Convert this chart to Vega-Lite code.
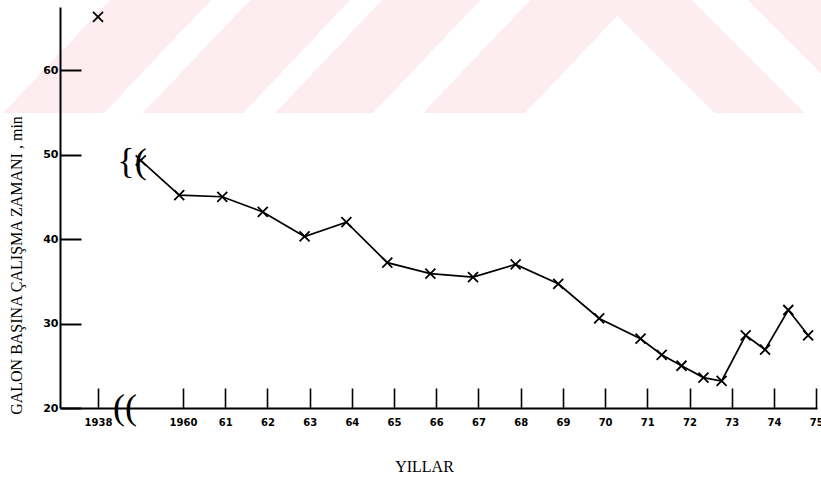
{
  "$schema": "https://vega.github.io/schema/vega-lite/v6.json",
  "autosize": {"type": "none"},
  "width": 757,
  "height": 401,
  "padding": {"left": 60, "top": 7, "right": 4, "bottom": 69},
  "background": "white",
  "config": {
    "view": {"stroke": null},
    "font": "DejaVu Sans",
    "axis": {
      "grid": false,
      "domainColor": "black",
      "domainWidth": 2,
      "tickColor": "black",
      "labelColor": "black",
      "labelFont": "DejaVu Sans",
      "labelFontWeight": "bold",
      "labelFlush": false,
      "labelOverlap": false,
      "titleColor": "black",
      "titleFont": "Liberation Serif",
      "titleFontWeight": "normal",
      "titleFontSize": 16
    }
  },
  "datasets": {
    "banner": [
      {"part": "left", "x0": 1935.68, "x1": 1970.31, "y0": 54.92, "y1": 68.29},
      {"part": "right", "x0": 1970.31, "x1": 1975.12, "y0": 54.92, "y1": 68.29}
    ],
    "series": [
      {"year": 1938, "minutes": 66.3},
      {"year": 1958.96, "minutes": 49.3},
      {"year": 1959.91, "minutes": 45.2},
      {"year": 1960.93, "minutes": 45.0},
      {"year": 1961.89, "minutes": 43.2},
      {"year": 1962.88, "minutes": 40.3},
      {"year": 1963.87, "minutes": 42.0},
      {"year": 1964.84, "minutes": 37.2},
      {"year": 1965.86, "minutes": 35.9},
      {"year": 1966.87, "minutes": 35.5},
      {"year": 1967.88, "minutes": 37.0},
      {"year": 1968.89, "minutes": 34.7},
      {"year": 1969.86, "minutes": 30.6},
      {"year": 1970.84, "minutes": 28.2},
      {"year": 1971.34, "minutes": 26.3},
      {"year": 1971.81, "minutes": 25.0},
      {"year": 1972.33, "minutes": 23.6},
      {"year": 1972.76, "minutes": 23.2},
      {"year": 1973.33, "minutes": 28.6},
      {"year": 1973.79, "minutes": 26.9},
      {"year": 1974.34, "minutes": 31.6},
      {"year": 1974.81, "minutes": 28.6}
    ],
    "breaks": [
      {"year": 1951.25, "minutes": 20.0, "sym": "(("},
      {"year": 1954.68, "minutes": 49.1, "sym": "{("}
    ]
  },
  "layer": [
    {
      "data": {"name": "banner"},
      "transform": [{"filter": "datum.part == 'left'"}],
      "mark": {
        "type": "rect",
        "strokeWidth": 0,
        "fill": {
          "gradient": "linear",
          "x1": 0, "y1": 0, "x2": 1.139, "y2": 0.1972,
          "stops": [
            {"offset": 0, "color": "#ffffff"},
            {"offset": 0.1517, "color": "#ffffff"},
            {"offset": 0.1517, "color": "#fdedf0"},
            {"offset": 0.291, "color": "#fdedf0"},
            {"offset": 0.291, "color": "#ffffff"},
            {"offset": 0.3448, "color": "#ffffff"},
            {"offset": 0.3448, "color": "#fdedf0"},
            {"offset": 0.4828, "color": "#fdedf0"},
            {"offset": 0.4828, "color": "#ffffff"},
            {"offset": 0.5269, "color": "#ffffff"},
            {"offset": 0.5269, "color": "#fdedf0"},
            {"offset": 0.6621, "color": "#fdedf0"},
            {"offset": 0.6621, "color": "#ffffff"},
            {"offset": 0.731, "color": "#ffffff"},
            {"offset": 0.731, "color": "#fdedf0"},
            {"offset": 0.8717, "color": "#fdedf0"},
            {"offset": 0.8717, "color": "#ffffff"},
            {"offset": 1, "color": "#ffffff"}
          ]
        }
      },
      "encoding": {
        "x": {"field": "x0", "type": "quantitative"},
        "x2": {"field": "x1"},
        "y": {"field": "y0", "type": "quantitative"},
        "y2": {"field": "y1"}
      }
    },
    {
      "data": {"name": "banner"},
      "transform": [{"filter": "datum.part == 'right'"}],
      "mark": {
        "type": "rect",
        "strokeWidth": 0,
        "fill": {
          "gradient": "linear",
          "x1": 0, "y1": 1, "x2": 1.1884, "y2": 0.3385,
          "stops": [
            {"offset": 0, "color": "#ffffff"},
            {"offset": 0.3038, "color": "#ffffff"},
            {"offset": 0.3038, "color": "#fdedf0"},
            {"offset": 0.5886, "color": "#fdedf0"},
            {"offset": 0.5886, "color": "#ffffff"},
            {"offset": 0.7658, "color": "#ffffff"},
            {"offset": 0.7658, "color": "#fdedf0"},
            {"offset": 1, "color": "#fdedf0"}
          ]
        }
      },
      "encoding": {
        "x": {"field": "x0", "type": "quantitative"},
        "x2": {"field": "x1"},
        "y": {"field": "y0", "type": "quantitative"},
        "y2": {"field": "y1"}
      }
    },
    {
      "data": {"name": "series"},
      "transform": [{"filter": "datum.year > 1950"}],
      "mark": {"type": "line", "color": "black", "strokeWidth": 1.7},
      "encoding": {
        "x": {
          "field": "year",
          "type": "quantitative",
          "scale": {
            "domain": [1937.1, 1938, 1959, 1975.02],
            "range": [0, 38, 80.8, 757],
            "nice": false,
            "zero": false
          },
          "axis": {
            "zindex": 2,
            "values": [1938, 1960, 1961, 1962, 1963, 1964, 1965, 1966, 1967, 1968, 1969, 1970, 1971, 1972, 1973, 1974, 1975],
            "labelExpr": "datum.value == 1938 || datum.value == 1960 ? format(datum.value, 'd') : format(datum.value - 1900, 'd')",
            "tickSize": -20,
            "tickWidth": 1.6,
            "labelFontSize": 10,
            "labelPadding": 29,
            "title": "YILLAR",
            "titleX": 364,
            "titleY": 58,
            "titleAlign": "center",
            "titleBaseline": "middle"
          }
        },
        "y": {
          "field": "minutes",
          "type": "quantitative",
          "scale": {"domain": [20, 67.46], "nice": false, "zero": false},
          "axis": {
            "zindex": 2,
            "values": [20, 30, 40, 50, 60],
            "tickSize": -21,
            "tickWidth": 2,
            "labelFontSize": 11,
            "labelPadding": 23,
            "title": "GALON BAŞINA ÇALIŞMA ZAMANI , min",
            "titleAngle": -90,
            "titleX": -44,
            "titleY": 258,
            "titleAlign": "center",
            "titleBaseline": "middle"
          }
        }
      }
    },
    {
      "data": {"name": "series"},
      "mark": {
        "type": "point",
        "shape": "M-1,-1L1,1M-1,1L1,-1",
        "filled": false,
        "color": "black",
        "size": 100,
        "strokeWidth": 1.8,
        "opacity": 1
      },
      "encoding": {
        "x": {"field": "year", "type": "quantitative"},
        "y": {"field": "minutes", "type": "quantitative"}
      }
    },
    {
      "data": {"name": "breaks"},
      "mark": {
        "type": "text",
        "font": "Liberation Serif",
        "fontSize": 36,
        "align": "center",
        "baseline": "middle",
        "color": "black"
      },
      "encoding": {
        "x": {"field": "year", "type": "quantitative"},
        "y": {"field": "minutes", "type": "quantitative"},
        "text": {"field": "sym"}
      }
    }
  ]
}
